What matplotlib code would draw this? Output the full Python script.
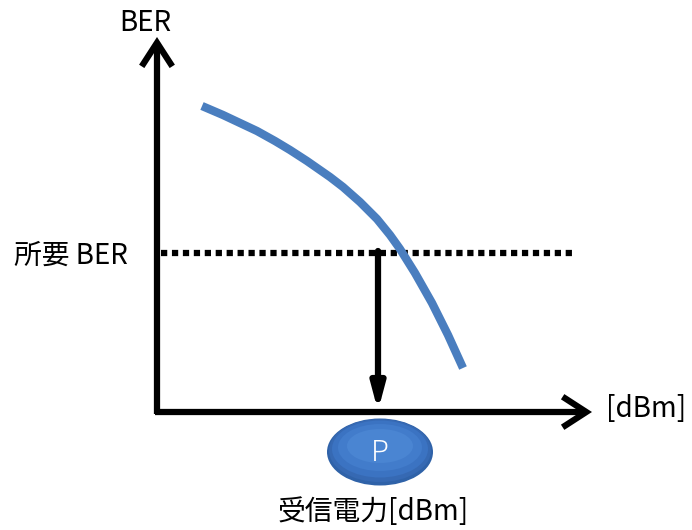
import matplotlib
matplotlib.use("Agg")
import matplotlib.pyplot as plt
from matplotlib.patches import Ellipse, FancyArrowPatch

plt.rcParams['font.family'] = ['Noto Sans CJK JP', 'DejaVu Sans']

# BER curve (pixel space of the slide)
power = [202, 223, 240, 257, 275, 290, 307, 330, 343, 360, 377, 390, 400, 415, 432, 448, 463]
ber = [106, 115, 123, 131, 141, 150, 161, 177, 187, 202, 219, 235, 249, 273, 303, 335, 368]

# key points of the sketch
origin = (157, 412)
y_top = 37
x_right = 592
required_ber = 253
dotted_end = 572
p_power = 378

labels = {
    'y': 'BER',
    'x': '[dBm]',
    'req': '所要 BER',
    'p': 'P',
    'bottom': '受信電力[dBm]',
}

fig = plt.figure(figsize=(6.92, 5.30), dpi=100)
ax = fig.add_axes([0, 0, 1, 1])
ax.set_xlim(0, 692)
ax.set_ylim(530, 0)
ax.axis('off')

# axes arrows
head = '->,head_length=17,head_width=11'
ax.add_patch(FancyArrowPatch((origin[0], origin[1] + 2), (origin[0], y_top),
                             arrowstyle=head, lw=4.5, color='black', mutation_scale=1,
                             shrinkA=0, shrinkB=0, joinstyle='miter', capstyle='butt'))
ax.add_patch(FancyArrowPatch((origin[0] - 2, origin[1]), (x_right, origin[1]),
                             arrowstyle=head, lw=4.5, color='black', mutation_scale=1,
                             shrinkA=0, shrinkB=0, joinstyle='miter', capstyle='butt'))

# required BER dotted line
ax.plot([origin[0] + 4, dotted_end], [required_ber, required_ber],
        color='black', lw=4.5, linestyle=(0, (1.0, 0.75)), solid_capstyle='butt',
        dash_capstyle='butt')

# BER curve
ax.plot(power, ber, color='#4A7EBF', lw=6, solid_capstyle='butt',
        solid_joinstyle='round', zorder=3)

# down arrow to P
ax.add_patch(FancyArrowPatch((p_power, required_ber - 2), (p_power, origin[1] - 1),
                             arrowstyle='-|>,head_length=15,head_width=4',
                             lw=4.5, color='black', mutation_scale=1,
                             shrinkA=0, shrinkB=0, zorder=4))

# P ellipse with a simple shade
ell_c = (p_power + 2, 452)
for i, (w, h, c) in enumerate([(106, 67, '#2F62A8'), (102, 63, '#3669B3'),
                               (96, 57, '#3B73C2'), (84, 47, '#427CCB'),
                               (66, 34, '#4A85D2')]):
    ax.add_patch(Ellipse((ell_c[0], ell_c[1] - i * 1.5), w, h, facecolor=c,
                         edgecolor='none', zorder=5))
ax.text(ell_c[0], ell_c[1] + 1, labels['p'], color='white', fontsize=21,
        fontweight='light', ha='center', va='center', zorder=6)

# texts
ax.text(145, 23, labels['y'], fontsize=20, ha='center', va='center')
ax.text(71, 256, labels['req'], fontsize=20, ha='center', va='center')
ax.text(646, 409, labels['x'], fontsize=20, ha='center', va='center')
ax.text(373, 512, labels['bottom'], fontsize=20, ha='center', va='center')

fig.savefig('out.png', dpi=100, facecolor='white')
